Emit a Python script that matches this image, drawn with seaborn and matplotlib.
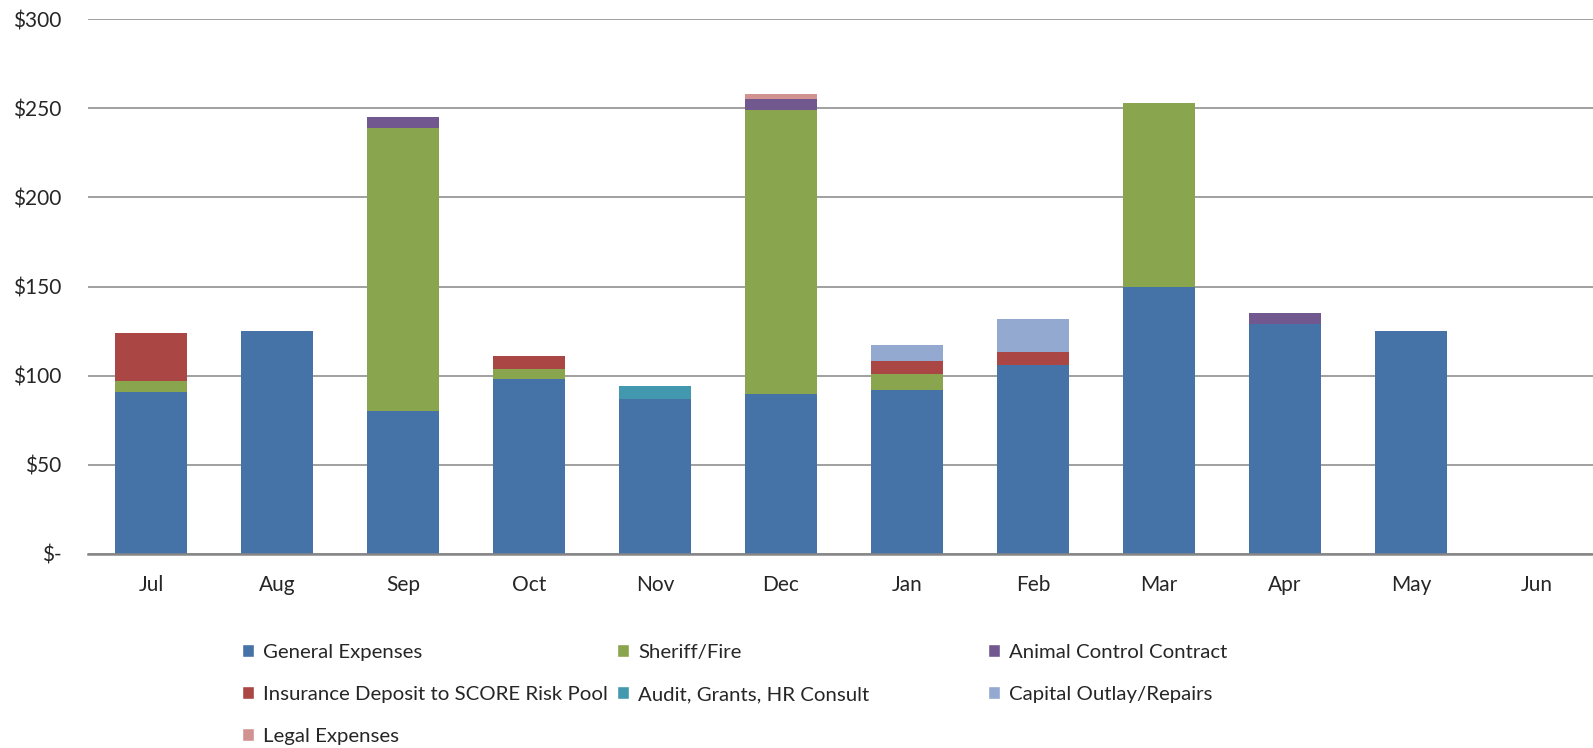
import matplotlib
matplotlib.use("Agg")
import matplotlib.pyplot as plt
from matplotlib.patches import Patch
from matplotlib.ticker import FuncFormatter
import numpy as np
import pandas as pd
import seaborn as sns

# Monthly expenses, stacked by category (bottom -> top)
months = ["Jul", "Aug", "Sep", "Oct", "Nov", "Dec", "Jan", "Feb", "Mar", "Apr", "May", "Jun"]
general   = [91, 125, 80, 98, 87, 90, 92, 106, 150, 129, 125, 0]
sheriff   = [6, 0, 159, 6, 0, 159, 9, 0, 103, 0, 0, 0]
animal    = [0, 0, 6, 0, 0, 6, 0, 0, 0, 6, 0, 0]
insurance = [27, 0, 0, 7, 0, 0, 7, 7, 0, 0, 0, 0]
audit     = [0, 0, 0, 0, 7, 0, 0, 0, 0, 0, 0, 0]
capital   = [0, 0, 0, 0, 0, 0, 9, 19, 0, 0, 0, 0]
legal     = [0, 0, 0, 0, 0, 3, 0, 0, 0, 0, 0, 0]

series_names = ["General Expenses", "Sheriff/Fire", "Animal Control Contract",
                "Insurance Deposit to SCORE Risk Pool", "Audit, Grants, HR Consult",
                "Capital Outlay/Repairs", "Legal Expenses"]
series_vals = [general, sheriff, animal, insurance, audit, capital, legal]
colors = ["#4572A7", "#89A54E", "#71588F", "#AA4643", "#4198AF", "#93A9CF", "#D19392"]

df = pd.DataFrame(dict(zip(series_names, series_vals)), index=months)
cum = df.cumsum(axis=1)

sns.set_style("white")
plt.rcParams["font.family"] = ["Lato", "DejaVu Sans"]

fig = plt.figure(figsize=(15.93, 7.48), dpi=100)
ax = fig.add_axes([88 / 1593, 194 / 748, 1512 / 1593, 535 / 748])

# draw cumulative totals from the top series down so they stack
for name, col in reversed(list(zip(series_names, colors))):
    sns.barplot(x=months, y=cum[name].values, order=months, color=col,
                width=0.57, saturation=1, linewidth=0, edgecolor="none",
                ax=ax, zorder=3)

ax.set_xlim(-0.5, len(months) - 0.5)
ax.set_ylim(0, 300)
ax.set_yticks(np.arange(0, 301, 50))
ax.yaxis.set_major_formatter(FuncFormatter(lambda v, p: "$-" if v == 0 else f"${v:.0f}"))
ax.grid(axis="y", color="#a0a0a0", linewidth=1.4, zorder=0)
ax.set_axisbelow(True)
for s in ["top", "right", "left"]:
    ax.spines[s].set_visible(False)
ax.spines["bottom"].set_color("#868686")
ax.spines["bottom"].set_linewidth(1.8)
ax.spines["bottom"].set_zorder(4)
ax.tick_params(axis="y", length=0, pad=19, labelsize=15)
ax.tick_params(axis="x", length=0, pad=15, labelsize=15)
ax.set_xlabel("")
ax.set_ylabel("")

# legend laid out in three fixed columns, row-major like the original
columns = [[0, 3, 6], [1, 4], [2, 5]]
col_x = [242 / 1593, 617 / 1593, 988 / 1593]
for idxs, x in zip(columns, col_x):
    handles = [Patch(facecolor=colors[i], label=series_names[i]) for i in idxs]
    fig.legend(handles=handles, loc="upper left", bbox_to_anchor=(x, 104 / 748),
               frameon=False, fontsize=14.7, handlelength=0.6, handleheight=0.6,
               handletextpad=0.45, labelspacing=1.22, borderpad=0, borderaxespad=0)

fig.savefig("out.png", dpi=100)
